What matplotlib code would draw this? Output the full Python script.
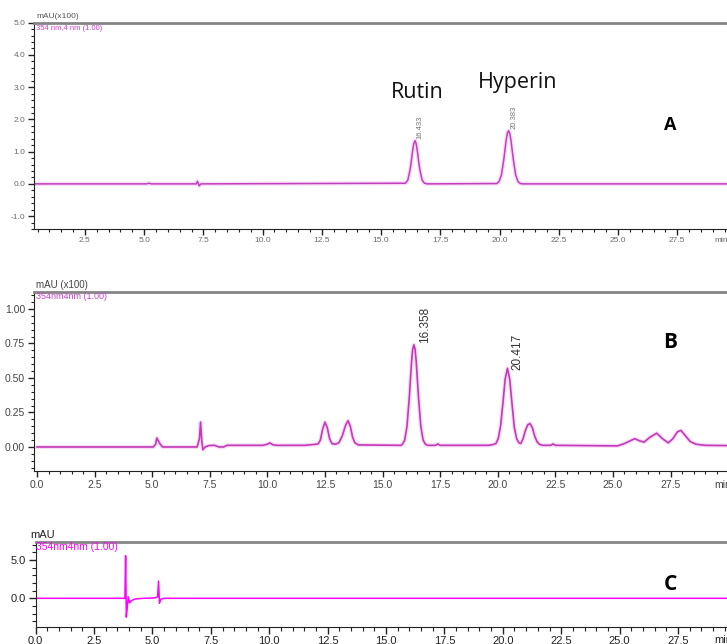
import matplotlib
matplotlib.use("Agg")
import matplotlib.pyplot as plt
from matplotlib.ticker import MultipleLocator, FormatStrFormatter

# ---- data (time in min, signal) ----
# A: standards, mAU x100
time_a = [0.0, 5.1, 5.2, 5.3, 7.2, 7.25, 7.32, 7.4,
          16.03, 16.13, 16.23, 16.28, 16.33, 16.38, 16.43, 16.48, 16.53, 16.58, 16.63, 16.73, 16.83, 16.95,
          19.88, 19.98, 20.08, 20.18, 20.23, 20.28, 20.33, 20.38, 20.43, 20.48, 20.53, 20.58, 20.68, 20.78, 20.88, 21.0,
          29.8]
signal_a = [0.0, 0.0, 0.02, 0.0, 0.0, 0.08, -0.06, 0.0,
            0.02, 0.12, 0.46, 0.73, 1.02, 1.25, 1.34, 1.25, 1.02, 0.73, 0.46, 0.12, 0.02, 0.0,
            0.01, 0.07, 0.28, 0.76, 1.06, 1.36, 1.57, 1.65, 1.57, 1.36, 1.06, 0.76, 0.28, 0.07, 0.01, 0.0,
            0.0]

# B: sample extract, mAU x100
time_b = [0.0, 5.05, 5.15, 5.2, 5.25, 5.35, 5.45, 6.95, 7.05, 7.1, 7.15, 7.2, 7.3, 7.45, 7.7, 7.9, 8.1, 8.25,
          9.8, 10.0, 10.1, 10.25, 10.45, 11.6, 12.0,
          12.2, 12.3, 12.4, 12.5, 12.6, 12.7, 12.8, 12.95, 13.1, 13.25, 13.4, 13.5, 13.6, 13.7, 13.8, 13.95,
          15.8, 15.86, 15.96, 16.06, 16.16, 16.21, 16.26, 16.31, 16.36, 16.41, 16.46, 16.51, 16.56, 16.66, 16.76,
          16.86, 16.95, 17.3, 17.4, 17.5,
          19.6, 19.8, 19.92, 20.02, 20.12, 20.22, 20.32, 20.42, 20.52, 20.62, 20.72, 20.82, 20.92, 21.0,
          21.1, 21.2, 21.3, 21.4, 21.5, 21.6, 21.7, 21.8, 21.95, 22.3, 22.4, 22.5,
          25.2, 25.5, 25.75, 25.95, 26.15, 26.35, 26.6, 26.9, 27.15, 27.4, 27.6, 27.8, 27.95, 28.15, 28.35,
          28.6, 29.0, 30.0]
signal_b = [0.0, 0.0, 0.02, 0.065, 0.05, 0.02, 0.0, 0.0, 0.06, 0.18, 0.05, -0.02, 0.0, 0.01, 0.012, 0.0, 0.0, 0.012,
            0.012, 0.02, 0.03, 0.015, 0.012, 0.012, 0.018,
            0.022, 0.05, 0.13, 0.18, 0.14, 0.06, 0.025, 0.02, 0.03, 0.08, 0.16, 0.19, 0.15, 0.07, 0.03, 0.015,
            0.012, 0.02, 0.05, 0.15, 0.36, 0.49, 0.62, 0.71, 0.74, 0.71, 0.62, 0.49, 0.36, 0.15, 0.05,
            0.02, 0.012, 0.012, 0.022, 0.012,
            0.012, 0.018, 0.025, 0.06, 0.15, 0.31, 0.49, 0.57, 0.49, 0.31, 0.14, 0.06, 0.03, 0.025,
            0.06, 0.12, 0.16, 0.17, 0.14, 0.08, 0.04, 0.02, 0.012, 0.012, 0.022, 0.012,
            0.008, 0.025, 0.045, 0.06, 0.045, 0.035, 0.07, 0.10, 0.06, 0.03, 0.06, 0.11, 0.12, 0.08, 0.04,
            0.02, 0.012, 0.01]

# C: blank, mAU
time_c = [0.0, 3.82, 3.85, 3.88, 3.92, 3.96, 4.02, 4.1, 4.25, 4.4, 4.6, 5.1, 5.22, 5.26, 5.3, 5.36, 5.5, 29.8]
signal_c = [0.0, 0.0, 5.55, -2.45, -1.2, 0.2, -0.6, -0.3, -0.1, -0.05, 0.0, 0.05, 0.2, 2.25, -0.65, -0.1, 0.0, 0.0]

peaks_a = [(16.433, 1.34, "16.433"), (20.383, 1.65, "20.383")]
peaks_b = [(16.358, 0.74, "16.358"), (20.417, 0.57, "20.417")]

W, H = 727, 644
fig = plt.figure(figsize=(W / 100, H / 100), dpi=100)


def px_axes(left, top, right, bottom):
    # axes box from pixel coords (y measured from top)
    return fig.add_axes([left / W, 1 - bottom / H, (right - left) / W, (bottom - top) / H])


def style(ax, fs, col, maj, minr):
    ax.spines["right"].set_visible(False)
    ax.spines["top"].set_color("#858585")
    ax.spines["top"].set_linewidth(2)
    ax.spines["left"].set_color("#222222")
    ax.spines["bottom"].set_color("#222222")
    ax.tick_params(which="major", direction="out", length=maj, width=1, labelsize=fs,
                   labelcolor=col, pad=2, color="#222222")
    ax.tick_params(which="minor", direction="out", length=minr, width=0.8, color="#222222")
    for lbl in ax.get_xticklabels() + ax.get_yticklabels():
        lbl.set_family("Liberation Sans")


# ---- panel A ----
axA = px_axes(34, 22.7, 727, 229)
axA.plot(time_a, signal_a, color="#f7dcf5", lw=3, zorder=1)
axA.plot(time_a, signal_a, color="#c23fbf", lw=1.1, zorder=2)
axA.set_xlim(0.35, 29.6)
axA.set_ylim(-1.4, 5.0)
axA.xaxis.set_major_locator(MultipleLocator(2.5))
axA.xaxis.set_minor_locator(MultipleLocator(0.5))
axA.yaxis.set_major_locator(MultipleLocator(1.0))
axA.yaxis.set_minor_locator(MultipleLocator(0.2))
axA.xaxis.set_major_formatter(FormatStrFormatter("%.1f"))
axA.yaxis.set_major_formatter(FormatStrFormatter("%.1f"))
style(axA, 6, "#6a6a6a", 4, 2.5)
for t, h, lab in peaks_a:
    axA.annotate(lab, xy=(t, h), xytext=(5, 2), textcoords="offset pixels", rotation=90,
                 ha="center", va="bottom", fontsize=5.5, color="#777777", family="Liberation Sans")
axA.text(16.52, 2.83, "Rutin", fontsize=15.5, ha="center", va="center", family="Open Sans", color="#111111")
axA.text(20.78, 3.14, "Hyperin", fontsize=15.5, ha="center", va="center", family="Open Sans", color="#111111")
fig.text(36 / W, 1 - 17 / H, "mAU(x100)", fontsize=6, color="#555555", va="center", family="Liberation Sans")
fig.text(36 / W, 1 - 29 / H, "354 nm,4 nm (1.00)", fontsize=5.5, color="#d040d0", va="center",
         family="Liberation Sans")

# ---- panel B ----
axB = px_axes(34, 291.7, 727, 471)
axB.plot(time_b, signal_b, color="#f7dcf5", lw=3, zorder=1)
axB.plot(time_b, signal_b, color="#c23ab8", lw=1.2, zorder=2)
axB.set_xlim(-0.13, 29.95)
axB.set_ylim(-0.174, 1.125)
axB.xaxis.set_major_locator(MultipleLocator(2.5))
axB.xaxis.set_minor_locator(MultipleLocator(0.5))
axB.yaxis.set_major_locator(MultipleLocator(0.25))
axB.yaxis.set_minor_locator(MultipleLocator(0.05))
axB.xaxis.set_major_formatter(FormatStrFormatter("%.1f"))
axB.yaxis.set_major_formatter(FormatStrFormatter("%.2f"))
style(axB, 7.5, "#444444", 4.5, 2.5)
for (t, h, lab), dx, dy in zip(peaks_b, [11, 10], [2, -2]):
    axB.annotate(lab, xy=(t, h), xytext=(dx, dy), textcoords="offset pixels", rotation=90,
                 ha="center", va="bottom", fontsize=8.5, color="#333333", family="Liberation Sans")
fig.text(36 / W, 1 - 285 / H, "mAU (x100)", fontsize=7, color="#444444", va="center", family="Liberation Sans")
fig.text(36 / W, 1 - 297 / H, "354nm4nm (1.00)", fontsize=6.5, color="#d040d0", va="center",
         family="Liberation Sans")

# ---- panel C ----
axC = px_axes(35.7, 542.3, 727, 626.7)
axC.plot(time_c, signal_c, color="#ff00ff", lw=1.1)
axC.set_xlim(0.0, 29.6)
axC.set_ylim(-3.7, 7.3)
axC.xaxis.set_major_locator(MultipleLocator(2.5))
axC.xaxis.set_minor_locator(MultipleLocator(0.5))
axC.yaxis.set_major_locator(MultipleLocator(5.0))
axC.yaxis.set_minor_locator(MultipleLocator(1.0))
axC.xaxis.set_major_formatter(FormatStrFormatter("%.1f"))
axC.yaxis.set_major_formatter(FormatStrFormatter("%.1f"))
style(axC, 8, "#222222", 5, 3)
fig.text(30 / W, 1 - 535 / H, "mAU", fontsize=8, color="#222222", va="center", family="Liberation Sans")
fig.text(36 / W, 1 - 547 / H, "354nm4nm (1.00)", fontsize=7.5, color="#ff00ff", va="center",
         family="Liberation Sans")

# axis unit, cut off by the image edge as in the original
for y_px, fs, col in [(241, 6, "#6a6a6a"), (485, 7.5, "#444444"), (640, 8, "#222222")]:
    fig.text(714 / W, 1 - y_px / H, "min", fontsize=fs, color=col, va="center", family="Liberation Sans")

# panel letters
for y_px, lab, fs in [(125, "A", 13), (343, "B", 15), (585, "C", 15)]:
    fig.text(670 / W, 1 - y_px / H, lab, fontsize=fs, fontweight="bold", ha="center", va="center",
             family="Open Sans")

fig.savefig("out.png", dpi=100)
